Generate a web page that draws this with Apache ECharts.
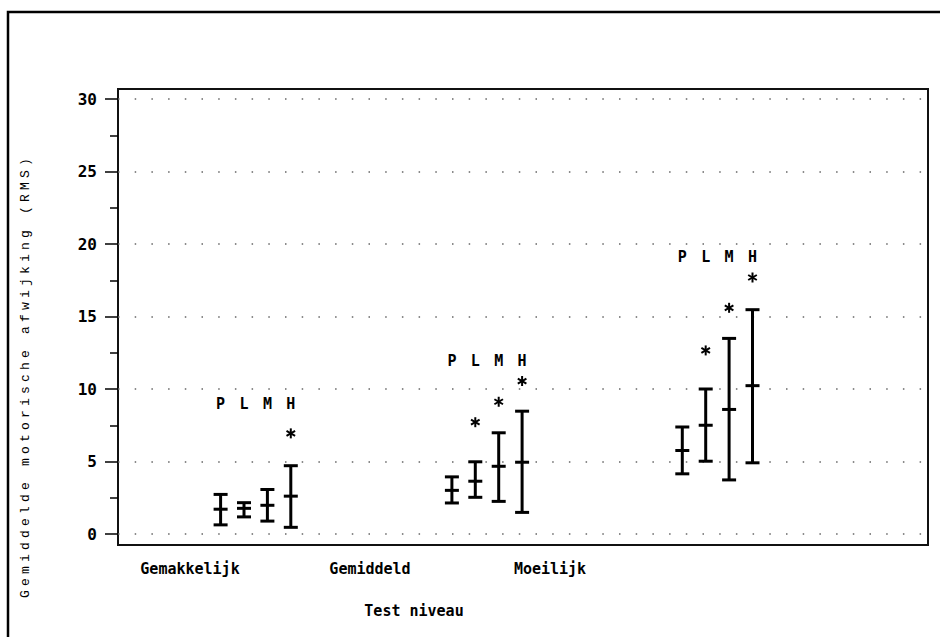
<!doctype html>
<html>
<head>
<meta charset="utf-8">
<title>Gemiddelde motorische afwijking per test niveau</title>
<script src="https://cdn.jsdelivr.net/npm/echarts@6/dist/echarts.min.js"></script>
<style>
    html, body { margin: 0; padding: 0; background: #fff; }
    #main { width: 940px; height: 637px; }
    /* y-as titel staat ruim gespatieerd */
    #main text[style*="Liberation Mono"] { letter-spacing: 4.2px; }
</style>
</head>
<body>
<div id="main"></div>
<script>
// categorieen en labelposities op de x-as
var catNames = ['Gemakkelijk', 'Gemiddeld', 'Moeilijk'];
var catTicks = [4, 14, 24];
var groupX = [7.65, 20.5, 33.3];
var levelNames = ['P', 'L', 'M', 'H'];
var levelOffset = [-1.95, -0.65, 0.65, 1.95];

// per niveau: ondergrens, gemiddelde, bovengrens (Gemakkelijk, Gemiddeld, Moeilijk)
var lowP  = [0.63, 2.14, 4.15];
var meanP = [1.71, 3.01, 5.76];
var highP = [2.73, 3.94, 7.38];

var lowL  = [1.18, 2.53, 5.02];
var meanL = [1.77, 3.64, 7.50];
var highL = [2.16, 4.98, 10.00];

var lowM  = [0.89, 2.25, 3.73];
var meanM = [1.98, 4.67, 8.59];
var highM = [3.07, 6.98, 13.49];

var lowH  = [0.46, 1.49, 4.91];
var meanH = [2.61, 4.95, 10.23];
var highH = [4.71, 8.47, 15.47];

// sterretjes (significant), null = geen ster
var starP = [null, null, null];
var starL = [null, 7.71, 12.66];
var starM = [null, 9.12, 15.60];
var starH = [6.94, 10.55, 17.69];

// hoogte van de P L M H letters per groep
var tagY = [9.0, 11.9, 19.1];

var yTicks = [0, 30, 5];

var lows = [lowP, lowL, lowM, lowH];
var means = [meanP, meanL, meanM, meanH];
var highs = [highP, highL, highM, highH];
var stars = [starP, starL, starM, starH];

var bars = [], starPts = [], tags = [];
for (var g = 0; g < catNames.length; g++) {
    for (var l = 0; l < levelNames.length; l++) {
        var x = groupX[g] + levelOffset[l];
        bars.push([x, lows[l][g], means[l][g], highs[l][g]]);
        if (stars[l][g] != null) starPts.push([x, stars[l][g]]);
        tags.push([x, tagY[g], levelNames[l]]);
    }
}

var monoBold = 'bold 15px "DejaVu Sans Mono", monospace';

var myChart = echarts.init(document.getElementById('main'), null, {renderer: 'svg'});

var option = {
    backgroundColor: '#fff',
    animation: false,
    grid: [{
        left: 118, top: 99, right: 12, bottom: 103,
        show: false
    }, {
        left: 118, top: 89, right: 12, bottom: 92,
        show: true,
        borderColor: '#111',
        borderWidth: 2,
        backgroundColor: 'transparent'
    }],
    xAxis: [{
        type: 'value',
        gridIndex: 0,
        min: 0,
        max: 45,
        axisLine: {show: false},
        axisTick: {show: false},
        splitLine: {show: false},
        axisLabel: {
            customValues: catTicks,
            margin: 27,
            color: '#000',
            fontFamily: '"DejaVu Sans Mono", monospace',
            fontWeight: 'bold',
            fontSize: 15,
            formatter: function (v) {
                var i = catTicks.indexOf(v);
                return i >= 0 ? catNames[i] : '';
            }
        }
    }, {
        type: 'value', gridIndex: 1, show: false
    }],
    yAxis: [{
        type: 'value',
        gridIndex: 0,
        min: yTicks[0],
        max: yTicks[1],
        interval: yTicks[2],
        axisLine: {show: false},
        axisTick: {
            show: true,
            length: 13,
            lineStyle: {color: '#000', width: 1.5}
        },
        minorTick: {
            show: true,
            splitNumber: 2,
            length: 8,
            lineStyle: {color: '#000', width: 1.5}
        },
        splitLine: {
            show: true,
            lineStyle: {color: '#666', width: 1.5, type: [1.5, 15.2]}
        },
        axisLabel: {
            margin: 21,
            color: '#000',
            fontFamily: '"DejaVu Sans Mono", monospace',
            fontWeight: 'bold',
            fontSize: 16,
            padding: [6, 0, 0, 0]
        }
    }, {
        type: 'value', gridIndex: 1, show: false
    }],
    graphic: [{
        type: 'rect',
        shape: {x: 8, y: 12, width: 1200, height: 900},
        style: {fill: 'none', stroke: '#000', lineWidth: 2.5},
        silent: true
    }, {
        type: 'text',
        x: 25, y: 376,
        rotation: Math.PI / 2,
        style: {
            text: 'Gemiddelde motorische afwijking (RMS)',
            font: '13px "Liberation Mono"',
            fill: '#000',
            align: 'center',
            verticalAlign: 'middle'
        }
    }, {
        type: 'text',
        x: 414, y: 611,
        style: {
            text: 'Test niveau',
            font: monoBold,
            fill: '#000',
            align: 'center',
            verticalAlign: 'middle'
        }
    }],
    series: [{
        type: 'custom',
        name: 'spreiding',
        xAxisIndex: 0,
        yAxisIndex: 0,
        data: bars,
        renderItem: function (params, api) {
            var x = api.value(0);
            var lo = api.coord([x, api.value(1)]);
            var mid = api.coord([x, api.value(2)]);
            var hi = api.coord([x, api.value(3)]);
            var w = 7;
            var st = {stroke: '#000', lineWidth: 3};
            return {
                type: 'group',
                children: [
                    {type: 'line', shape: {x1: lo[0], y1: lo[1], x2: hi[0], y2: hi[1]}, style: st},
                    {type: 'line', shape: {x1: lo[0] - w, y1: lo[1], x2: lo[0] + w, y2: lo[1]}, style: st},
                    {type: 'line', shape: {x1: hi[0] - w, y1: hi[1], x2: hi[0] + w, y2: hi[1]}, style: st},
                    {type: 'line', shape: {x1: mid[0] - w, y1: mid[1], x2: mid[0] + w, y2: mid[1]}, style: st}
                ]
            };
        }
    }, {
        type: 'custom',
        name: 'significant',
        xAxisIndex: 0,
        yAxisIndex: 0,
        data: starPts,
        renderItem: function (params, api) {
            var c = api.coord([api.value(0), api.value(1)]);
            var st = {stroke: '#000', lineWidth: 2};
            return {
                type: 'group',
                children: [
                    {type: 'line', shape: {x1: c[0], y1: c[1] - 5, x2: c[0], y2: c[1] + 5}, style: st},
                    {type: 'line', shape: {x1: c[0] - 4.3, y1: c[1] - 2.5, x2: c[0] + 4.3, y2: c[1] + 2.5}, style: st},
                    {type: 'line', shape: {x1: c[0] - 4.3, y1: c[1] + 2.5, x2: c[0] + 4.3, y2: c[1] - 2.5}, style: st}
                ]
            };
        }
    }, {
        type: 'custom',
        name: 'niveaus',
        xAxisIndex: 0,
        yAxisIndex: 0,
        data: tags,
        renderItem: function (params, api) {
            var c = api.coord([api.value(0), api.value(1)]);
            return {
                type: 'text',
                x: c[0], y: c[1],
                style: {
                    text: tags[params.dataIndex][2],
                    font: monoBold,
                    fill: '#000',
                    align: 'center',
                    verticalAlign: 'middle'
                }
            };
        }
    }]
};

myChart.setOption(option);
</script>
</body>
</html>
